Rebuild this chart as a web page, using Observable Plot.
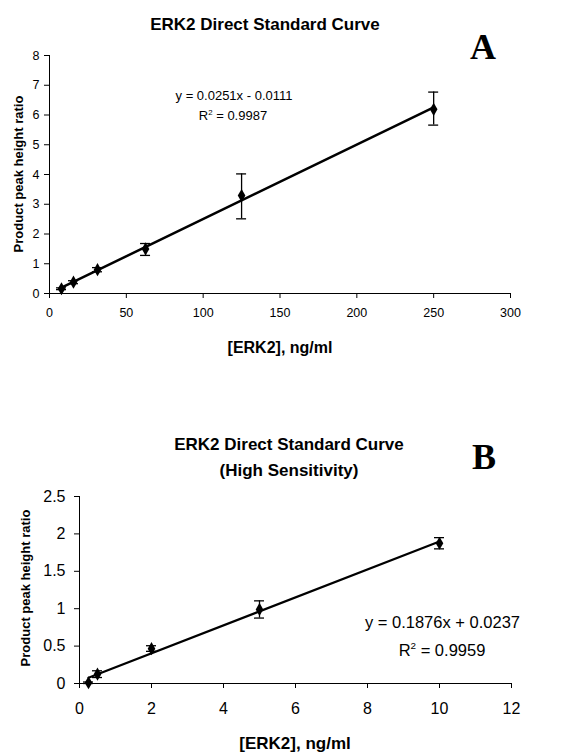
<!DOCTYPE html>
<html><head><meta charset="utf-8">
<script src="https://cdn.jsdelivr.net/npm/d3@7"></script>
<script src="https://cdn.jsdelivr.net/npm/@observablehq/plot@0.6"></script>
<style>
body{margin:0;background:#fff;}
#wrap{position:relative;width:584px;height:754px;font-family:"Liberation Sans",Arial,sans-serif;color:#000;}
.abs{position:absolute;white-space:nowrap;}
.b{font-weight:bold;}
.ctr{transform:translateX(-50%);}
.rot{transform:translate(-50%,-50%) rotate(-90deg);}
.letter{font-family:"Liberation Serif","Times New Roman",serif;font-weight:bold;}
#pa,#pb{position:absolute;left:0;}
sup{font-size:0.6em;vertical-align:0.7em;line-height:0;}
</style></head>
<body><div id="wrap">
<div id="pa" style="top:0"></div>
<div id="pb" style="top:377px"></div>
</div>
<script>
// Panel A data
const xA = [7.8, 15.6, 31.25, 62.5, 125, 250];
const yA = [0.16, 0.38, 0.80, 1.50, 3.29, 6.19];
const loA = [0.13, 0.33, 0.73, 1.28, 2.51, 5.66];
const hiA = [0.19, 0.43, 0.87, 1.68, 4.02, 6.77];
const xTicksA = [0, 50, 100, 150, 200, 250, 300];
const yTicksA = [0, 1, 2, 3, 4, 5, 6, 7, 8];

// Panel B data
const xB = [0.25, 0.5, 2, 5, 10];
const yB = [0.01, 0.125, 0.465, 0.99, 1.875];
const loB = [0.0, 0.08, 0.43, 0.875, 1.80];
const hiB = [0.02, 0.17, 0.505, 1.105, 1.95];
const xTicksB = [0, 2, 4, 6, 8, 10, 12];
const yTicksB = [0, 0.5, 1, 1.5, 2, 2.5];

const titleA = "ERK2 Direct Standard Curve";
const titleB1 = "ERK2 Direct Standard Curve";
const titleB2 = "(High Sensitivity)";
const yLabel = "Product peak height ratio";
const xLabel = "[ERK2], ng/ml";
const eqA1 = "y = 0.0251x - 0.0111";
const eqA2 = "0.9987";
const eqB1 = "y = 0.1876x + 0.0237";
const eqB2 = "0.9959";

function rows(xs, ys, lo, hi){ return xs.map((x,i)=>({x, y:ys[i], lo:lo[i], hi:hi[i]})); }

function panel(data, o){
  return Plot.plot({
    width: 584, height: 377,
    marginLeft: o.ml, marginRight: o.mr, marginTop: o.mt, marginBottom: o.mb,
    style: {fontFamily: '"Liberation Sans", Arial, sans-serif', fontSize: o.fs + "px", color: "#000", background: "#fff"},
    x: {domain: o.xd, ticks: o.xt, tickFormat: d => String(d)},
    y: {domain: o.yd, ticks: o.yt, tickFormat: d => String(d)},
    marks: [
      Plot.axisX({ticks: o.xt, tickSize: 5, tickPadding: o.xpad, fontSize: o.fs, label: null, stroke: "#000", tickFormat: d => String(d)}),
      Plot.axisY({ticks: o.yt, tickSize: 5, tickPadding: o.ypad, fontSize: o.fs, label: null, stroke: "#000", tickFormat: d => String(d)}),
      Plot.ruleX([o.xd[0]], {stroke: "#000", strokeWidth: 1}),
      Plot.ruleY([o.yd[0]], {stroke: "#000", strokeWidth: 1}),
      Plot.linearRegressionY(data, {x: "x", y: "y", ci: 0, stroke: "#000", strokeWidth: o.lw}),
      Plot.ruleX(data, {x: "x", y1: "lo", y2: "hi", stroke: "#000", strokeWidth: 1.3}),
      Plot.ruleY(data, {y: "lo", x1: "x", x2: "x", insetLeft: -5, insetRight: -5, stroke: "#000", strokeWidth: 1.3}),
      Plot.ruleY(data, {y: "hi", x1: "x", x2: "x", insetLeft: -5, insetRight: -5, stroke: "#000", strokeWidth: 1.3}),
      Plot.dot(data, {x: "x", y: "y", symbol: "diamond", r: o.r, fill: "#000", stroke: "none"})
    ]
  });
}

document.getElementById("pa").append(panel(rows(xA, yA, loA, hiA), {
  ml: 49, mr: 74, mt: 55, mb: 84, xd: [0, 300], yd: [0, 8], xt: xTicksA, yt: yTicksA,
  fs: 12.5, xpad: 10, ypad: 5, lw: 2.5, r: 4
}));
document.getElementById("pb").append(panel(rows(xB, yB, loB, hiB), {
  ml: 79, mr: 73, mt: 119, mb: 71, xd: [0, 12], yd: [0, 2.5], xt: xTicksB, yt: yTicksB,
  fs: 16, xpad: 14, ypad: 9, lw: 2.2, r: 4
}));

const wrap = document.getElementById("wrap");
function addText(html, css, cls){
  const d = document.createElement("div");
  d.className = "abs " + (cls || "");
  d.style.cssText = css;
  d.innerHTML = html;
  wrap.append(d);
}
// Panel A texts
addText(titleA, "left:265px;top:15px;font-size:17px;", "b ctr");
addText("A", "left:470px;top:26px;font-size:36px;", "letter");
addText(yLabel, "left:18px;top:174px;font-size:13px;", "b rot");
addText(xLabel, "left:280px;top:339px;font-size:16px;", "b ctr");
addText(eqA1, "left:234px;top:88px;font-size:13px;", "ctr");
addText("R<sup>2</sup> = " + eqA2, "left:233px;top:108px;font-size:13px;", "ctr");
// Panel B texts
addText(titleB1, "left:289px;top:435px;font-size:17px;", "b ctr");
addText(titleB2, "left:289px;top:461px;font-size:17px;", "b ctr");
addText("B", "left:472px;top:436px;font-size:36px;", "letter");
addText(yLabel, "left:25px;top:588px;font-size:13px;", "b rot");
addText(xLabel, "left:295px;top:734px;font-size:17px;", "b ctr");
addText(eqB1, "right:64px;top:613px;font-size:16.5px;", "");
addText("R<sup>2</sup> = " + eqB2, "left:442px;top:641px;font-size:16.5px;", "ctr");
</script>
</body></html>
